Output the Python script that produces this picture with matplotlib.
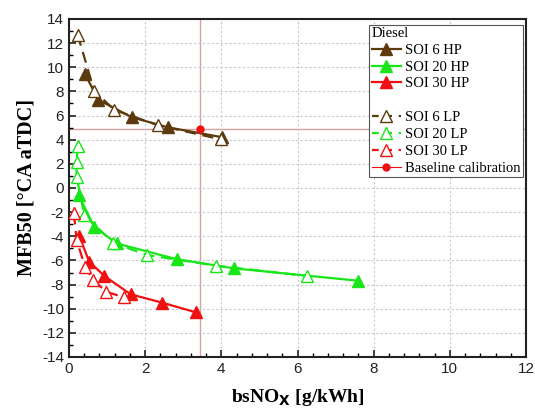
import matplotlib
matplotlib.use("Agg")
import matplotlib.pyplot as plt
from matplotlib.ticker import MultipleLocator
from matplotlib.lines import Line2D

# bsNOx [g/kWh] and MFB50 [°CA aTDC] for each injection timing / pressure
soi6_hp_x = [0.42, 0.77, 1.65, 2.59, 4.03]
soi6_hp_y = [9.44, 7.30, 5.86, 5.03, 4.20]
soi20_hp_x = [0.25, 0.66, 1.25, 2.83, 4.34, 7.59]
soi20_hp_y = [-0.58, -3.20, -4.59, -5.90, -6.66, -7.68]
soi30_hp_x = [0.27, 0.53, 0.93, 1.62, 2.45, 3.33]
soi30_hp_y = [-3.98, -6.10, -7.29, -8.81, -9.50, -10.30]

soi6_lp_x = [0.23, 0.66, 1.19, 2.35, 3.99]
soi6_lp_y = [12.68, 8.06, 6.46, 5.19, 4.03]
soi20_lp_x = [0.23, 0.20, 0.20, 0.40, 1.16, 2.04, 3.86, 6.24]
soi20_lp_y = [3.48, 2.18, 0.94, -2.24, -4.53, -5.55, -6.43, -7.29]
soi30_lp_x = [0.13, 0.20, 0.42, 0.64, 0.97, 1.45]
soi30_lp_y = [-2.10, -4.31, -6.52, -7.62, -8.59, -9.06]

baseline_x = 3.44
baseline_y = 4.85

brown = "#5c3a0e"
green = "#19e619"
red = "#f01010"
refline = "#d9a0a0"

serif = ["Liberation Serif", "DejaVu Serif"]
plt.rcParams["font.family"] = ["Liberation Sans", "DejaVu Sans"]
plt.rcParams["axes.unicode_minus"] = False

fig = plt.figure(figsize=(5.35, 4.12), dpi=100)
ax = fig.add_axes([69 / 535, 1 - 357 / 412, (526 - 69) / 535, (357 - 19) / 412])

ax.axvline(baseline_x, color=refline, lw=1.0, zorder=1)
ax.axhline(baseline_y, color=refline, lw=1.0, zorder=1)

ms = 8
for xs, ys, c in [(soi6_hp_x, soi6_hp_y, brown), (soi20_hp_x, soi20_hp_y, green),
                  (soi30_hp_x, soi30_hp_y, red)]:
    ax.plot(xs, ys, color=c, lw=1.6, marker="^", ms=ms, mfc=c, mec=c, zorder=3)

for xs, ys, c in [(soi6_lp_x, soi6_lp_y, brown), (soi20_lp_x, soi20_lp_y, green),
                  (soi30_lp_x, soi30_lp_y, red)]:
    ax.plot(xs, ys, color=c, lw=1.6, ls=(0, (5, 3)), marker="^", ms=ms + 1,
            mfc="white", mec=c, mew=1.0, zorder=4)

ax.plot([baseline_x], [baseline_y], "o", color=red, ms=5, zorder=5)

ax.set_xlim(0, 12)
ax.set_ylim(-14, 14)
ax.xaxis.set_major_locator(MultipleLocator(2))
ax.xaxis.set_minor_locator(MultipleLocator(0.4))
ax.yaxis.set_major_locator(MultipleLocator(2))
ax.yaxis.set_minor_locator(MultipleLocator(1))
ax.tick_params(which="major", direction="in", length=5, width=1.2, labelsize=11,
               top=False, right=False, colors="#222222")
ax.tick_params(which="minor", direction="in", length=3, width=1.0,
               top=False, right=False)
ax.grid(True, which="major", color="#c8c8c8", ls=(0, (2, 2)), lw=0.8)
for s in ax.spines.values():
    s.set_linewidth(1.5)
    s.set_color("#222222")

ax.set_xlabel(r"bsNO$_\mathbf{X}$ [g/kWh]", fontsize=14, fontweight="bold",
              family=serif, labelpad=8)
ax.set_ylabel("MFB50 [°CA aTDC]", fontsize=14.5, fontweight="bold",
              family=serif, labelpad=4)

handles = [
    Line2D([], [], color=brown, lw=1.6, marker="^", ms=8, mfc=brown),
    Line2D([], [], color=green, lw=1.6, marker="^", ms=8, mfc=green),
    Line2D([], [], color=red, lw=1.6, marker="^", ms=8, mfc=red),
    Line2D([], [], color="none"),
    Line2D([], [], color=brown, lw=1.6, ls=(0, (3, 3)), marker="^", ms=8, mfc="white", mec=brown),
    Line2D([], [], color=green, lw=1.6, ls=(0, (3, 3)), marker="^", ms=8, mfc="white", mec=green),
    Line2D([], [], color=red, lw=1.6, ls=(0, (3, 3)), marker="^", ms=8, mfc="white", mec=red),
    Line2D([], [], color=red, lw=0.8, marker="o", ms=5, mfc=red),
]
labels = ["SOI 6 HP", "SOI 20 HP", "SOI 30 HP", "", "SOI 6 LP", "SOI 20 LP",
          "SOI 30 LP", "Baseline calibration"]
leg = ax.legend(handles, labels, title="Diesel", loc="upper right",
                bbox_to_anchor=(0.993, 0.983), prop={"family": serif, "size": 10.5},
                title_fontproperties={"family": serif, "size": 10.5},
                frameon=True, fancybox=False, edgecolor="#555555", framealpha=1,
                borderpad=0.15, labelspacing=0.25, handlelength=2.0,
                handletextpad=0.3, borderaxespad=0.0)
leg._legend_box.align = "left"
leg.get_frame().set_linewidth(0.8)

fig.savefig("out.png", dpi=100)
